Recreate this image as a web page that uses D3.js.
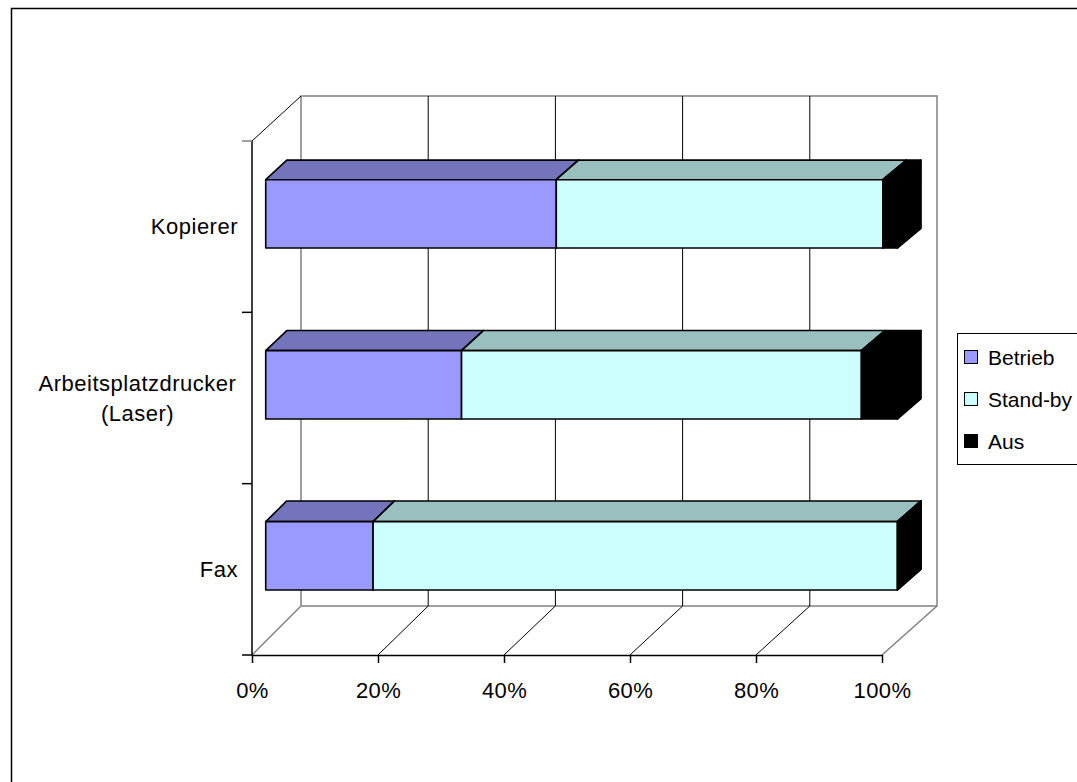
<!DOCTYPE html>
<html>
<head>
<meta charset="utf-8">
<script src="https://cdn.jsdelivr.net/npm/d3@7"></script>
<style>
  html, body { margin: 0; padding: 0; background: #fff; overflow: hidden; }
  svg { display: block; }
  text { font-family: "Liberation Sans", Arial, sans-serif; fill: #000; }
</style>
</head>
<body>
<svg id="chart" width="1077" height="782"></svg>
<script>
// Share of operating states per device type (percent of time)
const categories = ["Kopierer", "Arbeitsplatzdrucker (Laser)", "Fax"];
const categoryLines = [["Kopierer"], ["Arbeitsplatzdrucker", "(Laser)"], ["Fax"]];
const seriesNames = ["Betrieb", "Stand-by", "Aus"];
const betrieb = [46, 31, 17];
const standby = [51.7, 63.3, 83];
const aus = [2.3, 5.7, 0];
const tickValues = [0, 20, 40, 60, 80, 100];

const frontColors = ["#9999FF", "#CCFFFF", "#000000"];
const topColors = ["#7474BC", "#99C0BF", "#000000"];
const sideColors = ["#5a5a99", "#7fa3a3", "#000000"];

const svg = d3.select("#chart");

// outer chart frame (runs past the right and bottom edges)
svg.append("rect")
  .attr("x", 11.5).attr("y", 8.5)
  .attr("width", 1100).attr("height", 800)
  .attr("fill", "#fff").attr("stroke", "#000").attr("stroke-width", 1.5);

// front plane and back wall projections of the 3D box
const xFront = d3.scaleLinear().domain([0, 100]).range([252, 882]);
const xBack = d3.scaleLinear().domain([0, 100]).range([301, 937]);
const yFront = d3.scaleBand().domain(categories).range([141, 655]).paddingInner(0.6).paddingOuter(0.3);
const yBack = d3.scaleBand().domain(categories).range([96, 606]).paddingInner(0.6).paddingOuter(0.3);
const yFrontTop = 141, yFrontBottom = 655, yBackTop = 96, yBackBottom = 606;

const lerp = (a, b, t) => a + (b - a) * t;
// horizontal position of value v at depth t (0 = front, 1 = back)
const px = (v, t) => lerp(xFront(v), xBack(v), t);

const walls = svg.append("g");
const gray = "#808080";

// back wall outline
walls.append("rect")
  .attr("x", xBack(0)).attr("y", yBackTop)
  .attr("width", xBack(100) - xBack(0)).attr("height", yBackBottom - yBackTop)
  .attr("fill", "none").attr("stroke", gray).attr("stroke-width", 1.5);

// vertical gridlines on back wall and matching floor lines
tickValues.forEach(v => {
  if (v > 0 && v < 100) {
    walls.append("line")
      .attr("x1", xBack(v)).attr("x2", xBack(v))
      .attr("y1", yBackTop).attr("y2", yBackBottom)
      .attr("stroke", "#000").attr("stroke-width", 1);
  }
  walls.append("line")
    .attr("x1", xFront(v)).attr("y1", yFrontBottom)
    .attr("x2", xBack(v)).attr("y2", yBackBottom)
    .attr("stroke", (v === 0 || v === 100) ? gray : "#000")
    .attr("stroke-width", (v === 0 || v === 100) ? 1.5 : 1);
});

// side wall top edge
walls.append("line")
  .attr("x1", xFront(0)).attr("y1", yFrontTop)
  .attr("x2", xBack(0)).attr("y2", yBackTop)
  .attr("stroke", "#000").attr("stroke-width", 1);

// bars
const tNear = 0.28, tFar = 0.71;
const rows = categories.map((c, i) => {
  const vals = [betrieb[i], standby[i], aus[i]];
  let acc = 0;
  return vals.map((v, s) => {
    const seg = { cat: c, s, x0: acc, x1: acc + v };
    acc += v;
    return seg;
  });
});

const barG = svg.append("g")
  .attr("stroke", "#000").attr("stroke-width", 1.6).attr("stroke-linejoin", "round");

rows.forEach(segs => {
  segs.forEach(d => {
    const yTopN = lerp(yFront(d.cat), yBack(d.cat), tNear);
    const yTopF = lerp(yFront(d.cat), yBack(d.cat), tFar);
    const hN = lerp(yFront.bandwidth(), yBack.bandwidth(), tNear);
    const hF = lerp(yFront.bandwidth(), yBack.bandwidth(), tFar);
    const xa = px(d.x0, tNear), xb = px(d.x1, tNear);
    const xaF = px(d.x0, tFar), xbF = px(d.x1, tFar);
    // top face
    barG.append("path")
      .attr("d", `M${xa},${yTopN}L${xaF},${yTopF}L${xbF},${yTopF}L${xb},${yTopN}Z`)
      .attr("fill", topColors[d.s]);
    // right side face
    barG.append("path")
      .attr("d", `M${xb},${yTopN}L${xbF},${yTopF}L${xbF},${yTopF + hF}L${xb},${yTopN + hN}Z`)
      .attr("fill", sideColors[d.s]);
    // front face
    barG.append("rect")
      .attr("x", xa).attr("y", yTopN)
      .attr("width", Math.max(0, xb - xa)).attr("height", hN)
      .attr("fill", frontColors[d.s]);
  });
});

// value axis along the front edge of the floor
const xAxis = d3.axisBottom(xFront)
  .tickValues(tickValues)
  .tickFormat(d => d + "%")
  .tickSizeInner(8).tickSizeOuter(0).tickPadding(20);
const xg = svg.append("g")
  .attr("transform", `translate(0,${yFrontBottom})`)
  .call(xAxis);
xg.select(".domain").attr("stroke", "#000").attr("stroke-width", 1.5);
xg.selectAll(".tick line").attr("stroke", "#000").attr("stroke-width", 1.5);
xg.selectAll(".tick text")
  .attr("dy", null)
  .attr("dominant-baseline", "central")
  .style("font-family", "'Liberation Sans', Arial, sans-serif")
  .style("font-size", "22px").style("letter-spacing", "0.4px");
xg.selectAll(".tick text").attr("y", 690 - yFrontBottom);

// category axis on the front left edge
const catAxis = svg.append("g");
catAxis.append("line")
  .attr("x1", xFront(0)).attr("x2", xFront(0))
  .attr("y1", yFrontTop).attr("y2", yFrontBottom)
  .attr("stroke", "#000").attr("stroke-width", 1.5);
const step = yFront.step();
d3.range(categories.length + 1).forEach(k => {
  const y = yFrontTop + k * step;
  catAxis.append("line")
    .attr("x1", xFront(0) - 10).attr("x2", xFront(0))
    .attr("y1", y).attr("y2", y)
    .attr("stroke", k === 0 ? gray : "#000").attr("stroke-width", 1.5);
});

const labelRight = 238;
categories.forEach((c, i) => {
  const lines = categoryLines[i];
  const cy = yFront(c) + yFront.bandwidth() / 2;
  const lh = 30;
  const t = catAxis.append("text")
    .attr("font-size", 22).attr("letter-spacing", "0.5px")
    .attr("dominant-baseline", "central");
  if (lines.length === 1) {
    t.attr("x", labelRight).attr("y", cy).attr("text-anchor", "end").text(lines[0]);
  } else {
    // multi-line label: block right-aligned, lines centred within it
    const blockWidth = 201;
    const cx = labelRight - blockWidth / 2;
    lines.forEach((ln, j) => {
      t.append("tspan")
        .attr("x", cx)
        .attr("y", cy + (j - (lines.length - 1) / 2) * lh)
        .attr("text-anchor", "middle")
        .text(ln);
    });
  }
});

// legend
const lg = svg.append("g");
lg.append("rect")
  .attr("x", 957.5).attr("y", 333.5)
  .attr("width", 200).attr("height", 131)
  .attr("fill", "#fff").attr("stroke", "#000").attr("stroke-width", 1);
seriesNames.forEach((name, i) => {
  const cy = 357 + i * 42;
  lg.append("rect")
    .attr("x", 964.5).attr("y", cy - 6.5)
    .attr("width", 13).attr("height", 13)
    .attr("fill", frontColors[i]).attr("stroke", "#000").attr("stroke-width", 1);
  lg.append("text")
    .attr("x", 988).attr("y", cy)
    .attr("dominant-baseline", "central")
    .attr("font-size", 21)
    .text(name);
});
</script>
</body>
</html>
